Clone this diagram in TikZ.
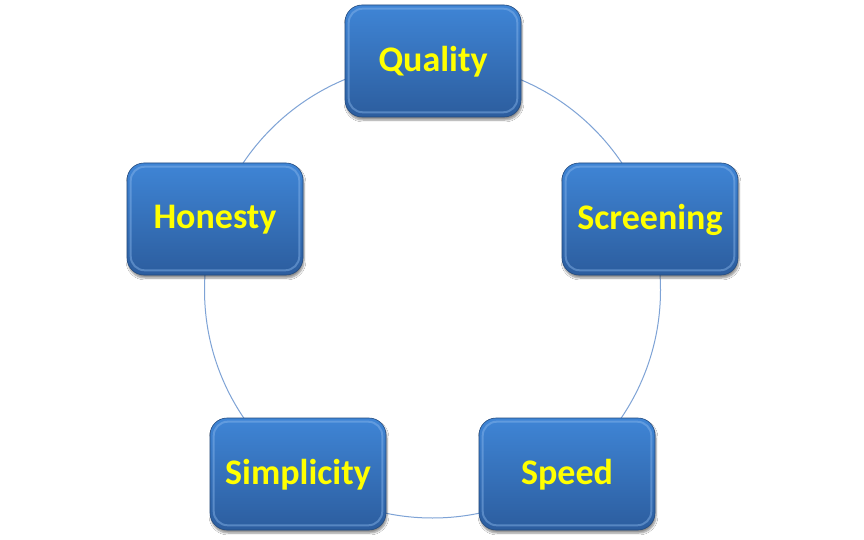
\documentclass[tikz,border=0pt]{standalone}
\usepackage{fontspec}
\setmainfont{Carlito}
\usetikzlibrary{shadows,shadows.blur}
\definecolor{ringblue}{HTML}{7EA3D6}
\definecolor{boxtop}{HTML}{3F85D6}
\definecolor{boxbot}{HTML}{2C5D9E}
\definecolor{rimlight}{HTML}{8CB8EC}
\definecolor{labelyellow}{HTML}{FFFF00}
\tikzset{
  valuebox/.style={rounded corners=17pt, minimum width=176pt, minimum height=112pt,
    top color=boxtop, bottom color=boxbot, draw=boxbot!80!black, line width=0.6pt,
    blur shadow={shadow xshift=1pt, shadow yshift=-3pt, shadow blur steps=6, shadow opacity=45},
    inner sep=0pt},
  rim/.style={rounded corners=14pt, draw=rimlight, line width=2pt, opacity=0.45},
  valuetext/.style={font=\bfseries\fontsize{36}{40}\selectfont, text=labelyellow},
  ring/.style={draw=ringblue, line width=1pt}
}
\begin{document}
\begin{tikzpicture}[x=1pt,y=-1pt]
\useasboundingbox (0,0) rectangle (864,540);
\fill[white] (0,0) rectangle (864,540);
% the ring joining the five values
\coordinate (hub) at (432.5,290);
\draw[ring] (hub) circle[radius=228];
% value boxes
\foreach \nm/\px/\py/\txt in {quality/433/61/Quality, screening/650/219/Screening,
    speed/567/474/Speed, simplicity/298/474/Simplicity, honesty/215/219/Honesty}{
  \node[valuebox] (\nm) at (\px,\py) {};
  \draw[rim] ([xshift=4pt,yshift=-4pt]\nm.north west) rectangle ([xshift=-4pt,yshift=5pt]\nm.south east);
  \node[valuetext] (\nm-label) at ([yshift=-1pt]\nm) {\txt};
}
\end{tikzpicture}
\end{document}
